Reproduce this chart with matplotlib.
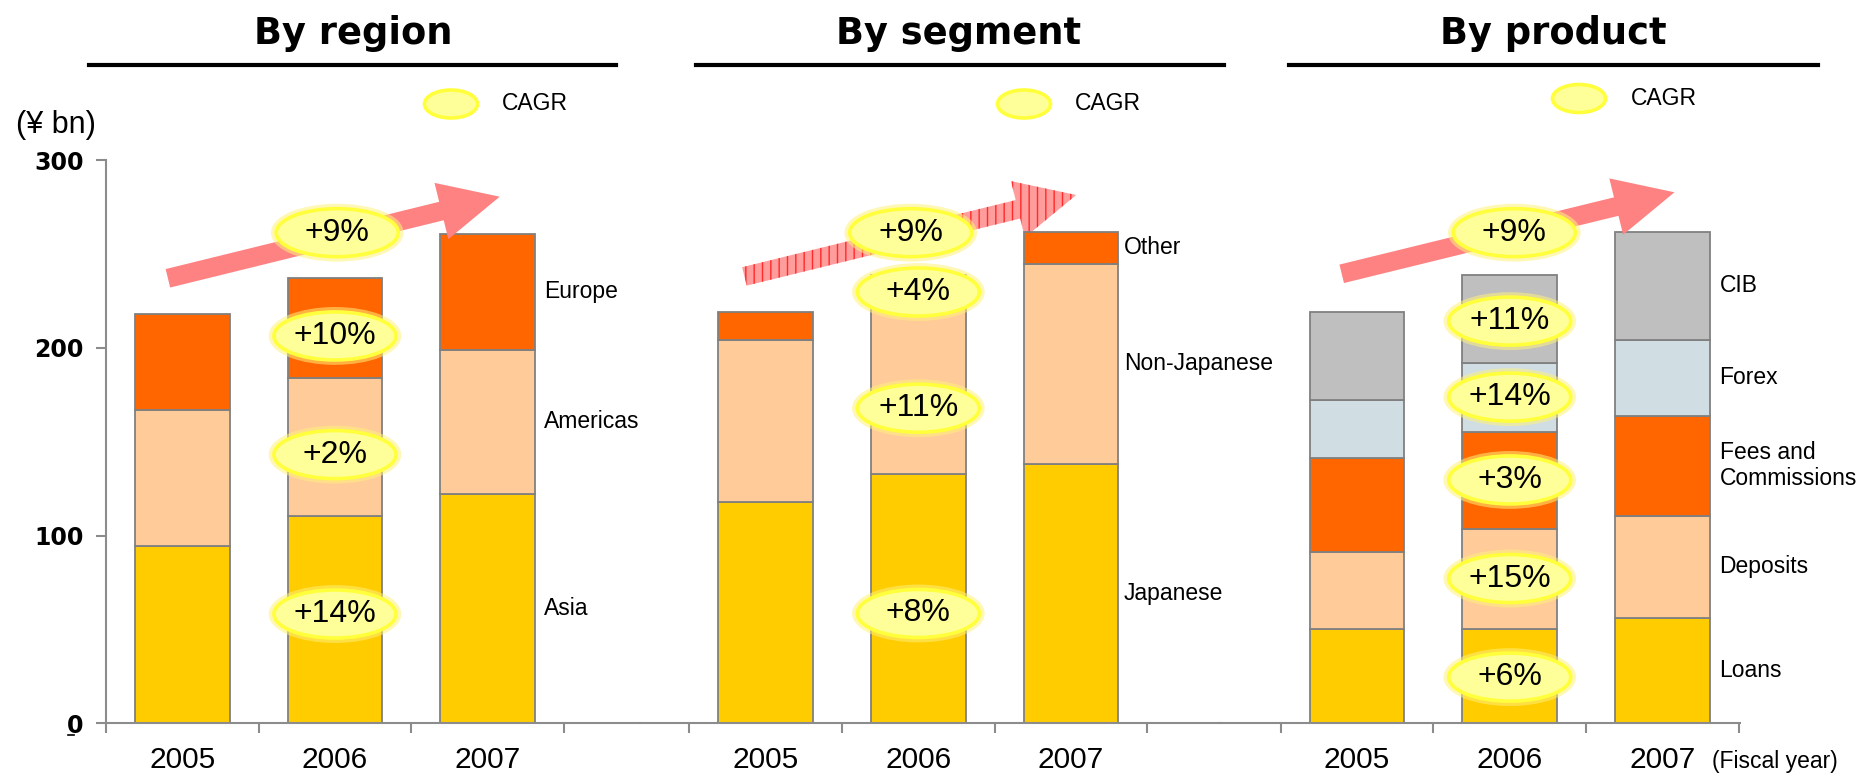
import matplotlib
matplotlib.use("Agg")
import matplotlib.pyplot as plt
import matplotlib.transforms as mtransforms
from matplotlib.patches import Ellipse, FancyArrow
from matplotlib.lines import Line2D

# ---------------- data (¥ bn) ----------------
years = ["2005", "2006", "2007"]

region_names = ["Asia", "Americas", "Europe"]
region_asia = [94.6, 110.4, 122.2]
region_americas = [72.3, 73.7, 76.7]
region_europe = [51.3, 53.3, 61.8]
region_cagr = ["+14%", "+2%", "+10%"]

segment_names = ["Japanese", "Non-Japanese", "Other"]
segment_japanese = [118.1, 133.0, 138.3]
segment_non_japanese = [86.1, 89.7, 106.2]
segment_other = [15.1, 16.0, 17.4]
segment_cagr = ["+8%", "+11%", "+4%"]

product_names = ["Loans", "Deposits", "Fees and\nCommissions", "Forex", "CIB"]
product_loans = [50.1, 50.1, 56.1]
product_deposits = [41.3, 53.3, 54.3]
product_fees = [50.1, 52.0, 53.5]
product_forex = [30.7, 36.4, 40.3]
product_cib = [47.1, 46.7, 57.7]
product_cagr = ["+6%", "+15%", "+3%", "+14%", "+11%"]

total_cagr = "+9%"
y_ticks = [0, 100, 200, 300]

# ---------------- styling ----------------
GOLD, PEACH, ORANGE, FOREX_BLUE, CIB_GREY = "#FFCC00", "#FFCC99", "#FF6600", "#D0DEE4", "#BFBFBF"
EDGE = "#808080"
AXIS_GREY = "#8C8C8C"
NARROW = "Liberation Sans"
BOLD = "DejaVu Sans"

W, H, DPI = 1858, 775, 100
fig = plt.figure(figsize=(W / DPI, H / DPI), dpi=DPI)
fig.patch.set_facecolor("white")
plt.rcParams["hatch.linewidth"] = 1.0

# pixel coordinates (origin top-left) -> figure
PX = mtransforms.Affine2D().scale(1 / W, -1 / H).translate(0, 1) + fig.transFigure


def fx(x):
    return x / W


def fy(y):
    return 1 - y / H


UNIT = 152.7          # pixels per category slot
Y0, Y300 = 723.3, 160.0
BAR_W = 0.62


def make_axes(left_px, right_px, first_tick_px, show_y=False):
    ax = fig.add_axes([fx(left_px), fy(Y0), (right_px - left_px) / W, (Y0 - Y300) / H])
    x0 = -(first_tick_px - left_px) / UNIT
    ax.set_xlim(x0, x0 + (right_px - left_px) / UNIT)
    ax.set_ylim(0, 300)
    ax.patch.set_alpha(0)
    for s in ("top", "right"):
        ax.spines[s].set_visible(False)
    for s in ("bottom", "left"):
        ax.spines[s].set_color(AXIS_GREY)
        ax.spines[s].set_linewidth(1.5)
    ax.set_xticks([0, 1, 2, 3])
    ax.set_xticklabels([])
    ax.set_xticks([0.5, 1.5, 2.5], years, minor=True)
    ax.tick_params(axis="x", which="major", direction="out", length=7.2, width=1.5, color=AXIS_GREY)
    ax.tick_params(axis="x", which="minor", length=0, pad=16)
    for lab in ax.get_xticklabels(minor=True):
        lab.set_fontfamily(NARROW)
        lab.set_fontsize(21.5)
    if show_y:
        ax.set_yticks(y_ticks)
        ax.tick_params(axis="y", direction="out", length=7.2, width=1.5, color=AXIS_GREY, pad=9)
        for lab in ax.get_yticklabels():
            lab.set_fontfamily(BOLD)
            lab.set_fontweight("bold")
            lab.set_fontsize(17)
    else:
        ax.set_yticks([])
        ax.spines["left"].set_visible(False)
    return ax


def bubble(ax, x, y, txt):
    w, h = 122 / UNIT, 48 / ((Y0 - Y300) / 300)
    ax.add_patch(Ellipse((x, y), w * 1.03, h * 1.06, facecolor="none",
                         edgecolor="#FFF27A", linewidth=5, alpha=0.55, zorder=4))
    ax.add_patch(Ellipse((x, y), w, h, facecolor="#FFFF99", edgecolor="#FFFF3C",
                         linewidth=2.6, zorder=5))
    ax.text(x, y, txt, ha="center", va="center", fontfamily=NARROW,
            fontsize=23, zorder=6)


def stacked(ax, layers, colors, names, cagr, cagr_y, total_dx, label_dx):
    xs = [0.5, 1.5, 2.5]
    bottom = [0.0, 0.0, 0.0]
    for vals, col, name in zip(layers, colors, names):
        ax.bar(xs, vals, width=BAR_W, bottom=bottom, color=col, edgecolor=EDGE,
               linewidth=1.3, zorder=2)
        mid = bottom[2] + vals[2] / 2
        ax.annotate(name, xy=(xs[2] + BAR_W / 2, mid), xytext=(label_dx, 0),
                    textcoords="offset points", ha="left", va="center",
                    fontfamily=NARROW, fontsize=16.5, linespacing=1.15, zorder=6)
        bottom = [b + v for b, v in zip(bottom, vals)]
    for txt, yv in zip(cagr, cagr_y):
        bubble(ax, 1.5, yv, txt)
    bubble(ax, 1.5 + total_dx, 261.3, total_cagr)


def arrow(ax, x0, y0, x1, y1, z, hatch=None):
    kw = dict(width=19, head_width=58, head_length=60, length_includes_head=True,
              transform=PX, zorder=z, linewidth=0, clip_on=False)
    if hatch:
        a = FancyArrow(x0, y0, x1 - x0, y1 - y0, facecolor="#FF9C9C",
                       edgecolor="#FF2A2A", hatch=hatch, **kw)
    else:
        a = FancyArrow(x0, y0, x1 - x0, y1 - y0, facecolor="#FF8282", **kw)
    ax.add_artist(a)


def legend_mark(cx, cy, tx):
    fig.add_artist(Ellipse((fx(cx), fy(cy)), 53 / W, 28 / H, facecolor="#FFFF99",
                           edgecolor="#FFFF3C", linewidth=2.6, transform=fig.transFigure))
    fig.text(fx(tx), fy(cy), "CAGR", ha="left", va="center", fontfamily=NARROW, fontsize=16.5)


def title(cx, x0, x1, s):
    fig.text(fx(cx), fy(43.5), s, ha="center", va="baseline", fontfamily=BOLD,
             fontweight="bold", fontsize=26.5)
    fig.add_artist(Line2D([fx(x0), fx(x1)], [fy(65), fy(65)], color="black", linewidth=3))


ax_r = make_axes(105.9, 640, 105.9, show_y=True)
stacked(ax_r, [region_asia, region_americas, region_europe], [GOLD, PEACH, ORANGE],
        region_names, region_cagr, [58.2, 143.1, 206.3], 0.015, 6.5)
arrow(ax_r, 167.9, 278.3, 499.7, 196.7, z=3)

ax_s = make_axes(640, 1220, 689.3)
stacked(ax_s, [segment_japanese, segment_non_japanese, segment_other], [GOLD, PEACH, ORANGE],
        segment_names, segment_cagr, [58.5, 167.8, 229.7], -0.05, 4)
arrow(ax_s, 744.4, 276.4, 1076.2, 195.0, z=1.5, hatch="||")

ax_p = make_axes(1220, 1739.7, 1280.7)
stacked(ax_p, [product_loans, product_deposits, product_fees, product_forex, product_cib],
        [GOLD, PEACH, ORANGE, FOREX_BLUE, CIB_GREY], product_names, product_cagr,
        [24.6, 77.1, 129.6, 173.7, 214.2], 0.03, 7)
arrow(ax_p, 1341.7, 273.8, 1674.5, 192.3, z=3)

title(353, 89, 616, "By region")
title(959, 696, 1224, "By segment")
title(1553, 1289, 1818, "By product")

legend_mark(451, 104, 502)
legend_mark(1024, 104, 1075)
legend_mark(1579, 98.5, 1631)

fig.text(fx(15.8), fy(125), "(¥ bn)", ha="left", va="center", fontfamily=NARROW, fontsize=22)
fig.text(fx(1712), fy(761.5), "(Fiscal year)", ha="left", va="center", fontfamily=NARROW,
         fontsize=16.5)
fig.add_artist(Line2D([fx(68), fx(74)], [fy(734.5), fy(734.5)], color="black", linewidth=1.2))

fig.savefig("out.png", dpi=DPI, facecolor="white")
